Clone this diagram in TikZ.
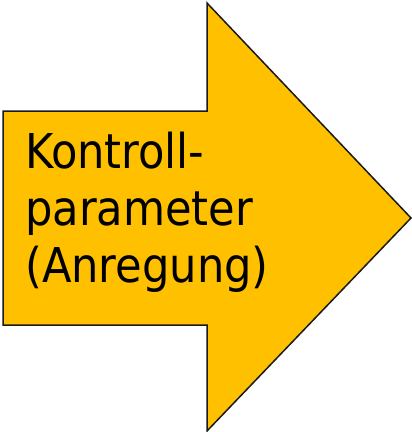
\documentclass[tikz,border=0pt]{standalone}
\usepackage{fontspec}
\setmainfont{DejaVu Sans Condensed}
\usepackage{tikz}
\usetikzlibrary{positioning}
\definecolor{arrowgold}{HTML}{FFC000}

\begin{document}
\begin{tikzpicture}[x=1pt,y=-1pt,
  every node/.style={font=\fontsize{48}{57}\selectfont},
  bigarrow/.style={draw=black!90,line width=1.5pt,fill=arrowgold,line join=miter},
  caption/.style={align=left,inner sep=0pt,text=black}]

\useasboundingbox (0,0) rectangle (412,432);

% shaft and head
\def\xl{3}
\def\xh{207}
\def\xt{411}
\def\ys{111}
\def\yb{325}
\draw[bigarrow] (\xl,\ys) -- (\xh,\ys) -- (\xh,3) -- (\xt,218)
  -- (\xh,431) -- (\xh,\yb) -- (\xl,\yb) -- cycle;

% text inside the shaft (base = last line)
\node[caption,anchor=base west] (ctrl) at (25,282)
 {Kontroll-\\parameter\\(Anregung)};

\end{tikzpicture}
\end{document}
